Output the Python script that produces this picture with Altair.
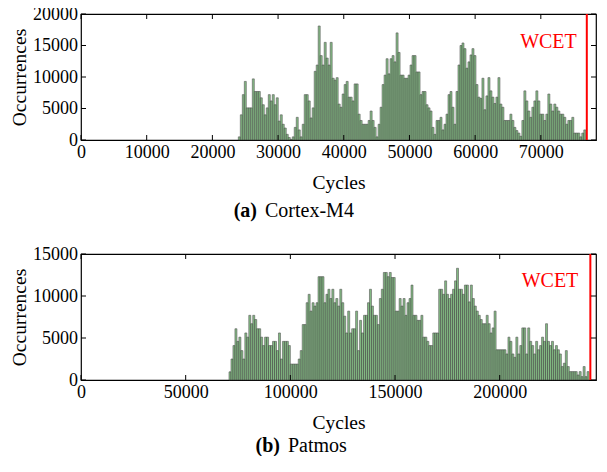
import altair as alt
import pandas as pd

FONT = "Liberation Serif"

# ---------------- (a) Cortex-M4 ----------------
m4_counts = [
    500, 4000, 7200, 9300, 5100, 5100, 5100, 9700, 7700, 7700,
    7700, 6700, 5600, 4000, 5100, 7200, 6200, 7200, 5600, 6700,
    3000, 4000, 2500, 1900, 900, 400, 100, 500, 2000, 3600,
    1600, 500, 2500, 7200, 7200, 6200, 3500, 5100, 10900, 11900,
    18100, 13400, 11900, 15500, 13000, 11900, 15500, 9800, 9500, 9900,
    5700, 5200, 7300, 8800, 9300, 6800, 6800, 6200, 8900, 8900,
    4100, 3100, 2500, 2500, 2500, 3100, 4600, 3100, 2000, 500,
    2500, 5200, 8800, 10300, 12900, 10500, 12900, 13400, 12400, 17000,
    13900, 10300, 10300, 9800, 9800, 10300, 11900, 13400, 13400, 10800,
    10800, 7200, 7700, 7700, 5600, 5100, 4600, 2000, 900, 3100,
    3100, 3600, 1600, 2500, 4100, 7200, 7700, 5200, 2500, 7700,
    11900, 15000, 15400, 14500, 11400, 12400, 13500, 14500, 13400, 8800,
    6800, 6600, 9800, 4800, 7000, 9900, 7800, 6800, 5800, 6800,
    9900, 5700, 5200, 3100, 3100, 3100, 4100, 3100, 2000, 1500,
    1100, 600, 3100, 7800, 6200, 4600, 3600, 5200, 6200, 7800,
    6200, 4100, 4100, 3100, 4100, 7300, 5700, 4600, 5700, 5200,
    4600, 4100, 4100, 3600, 2500, 3100, 3100, 3600, 1100, 1100,
    1100, 500, 1100, 1600,
]
m4_bin_start = 23950
m4_bin_width = 304
m4_wcet = 77000
m4_xmax = 78400
m4_ymax = 20000
m4_xticks = [0, 10000, 20000, 30000, 40000, 50000, 60000, 70000]
m4_yticks = [0, 5000, 10000, 15000, 20000]

# ---------------- (b) Patmos ----------------
pat_counts = [
    970, 2500, 4100, 6100, 4600, 5100, 3500, 2500, 5600, 5100,
    7700, 6700, 7700, 7200, 6100, 6100, 5100, 4100, 5100, 5100,
    4100, 4100, 4600, 4600, 3500, 5600, 2500, 4600, 4600, 4600,
    4100, 1900, 1900, 1900, 1900, 2500, 3500, 6600, 6600, 9200,
    10200, 8200, 9200, 8800, 9200, 12300, 12300, 12300, 9200, 10200,
    10800, 9700, 10800, 9200, 9700, 8800, 10800, 9200, 7600,
    5600, 8200, 5600, 6100, 6100, 8200, 3500, 7100, 5600, 7700,
    7700, 9200, 10800, 8800, 7700, 7700, 6600, 9700, 10800, 12800,
    12800, 12300, 12800, 12200, 12200, 8200, 8200, 9700, 8800, 9700,
    7700, 9200, 9700, 11300, 7700, 7700, 7100, 7100, 7700, 5100,
    5100, 4600, 4100, 4100, 5600, 5600, 5600, 10800, 10800, 10200,
    11800, 10200, 9700, 10200, 10800, 11800, 13300, 10800, 10800, 10200,
    11300, 11300, 9300, 11300, 9700, 8800, 8200, 7700, 7200, 6700,
    6700, 7700, 6700, 5600, 6200, 8200, 3600, 3600, 3600, 3600,
    3600, 3100, 5100, 4600, 3100, 2700, 5100, 3100, 4100, 6200,
    6200, 3100, 6200, 4600, 4100, 3100, 4600, 3600, 4100, 5100,
    4600, 6700, 4600, 4100, 4600, 3600, 4100, 3600, 3100, 1600,
    2000, 3500, 1600, 1000, 1000, 1000, 1000, 600, 1000, 400,
    1600, 400, 1000,
]
pat_bin_start = 70700
pat_bin_width = 945
pat_wcet = 243300
pat_xmax = 246000
pat_ymax = 15000
pat_xticks = [0, 50000, 100000, 150000, 200000]
pat_yticks = [0, 5000, 10000, 15000]

captions_tag = ["(a)", "(b)"]
captions_name = ["Cortex-M4", "Patmos"]
wcet_label = "WCET"
x_title = "Cycles"
y_title = "Occurrences"

W = 515


def panel(counts, start, width, wcet, xmax, ymax, xticks, yticks, H,
          tag, name, tag_x, name_x, cap_y, wcet_y, wcet_dx):
    lo = [start + i * width for i in range(len(counts))]
    df = pd.DataFrame({"lo": lo, "hi": [v + width for v in lo],
                       "count": counts, "base": [0] * len(counts)})
    xs = alt.Scale(domain=[0, xmax], nice=False, zero=False)
    ys = alt.Scale(domain=[0, ymax], nice=False)
    xaxis = alt.Axis(values=xticks, title=x_title, format="d", ticks=False,
                     domain=False, grid=False, labelPadding=3, titlePadding=12.5,
                     labelFlush=False, labelOverlap=False)
    yaxis = alt.Axis(values=yticks, title=y_title, format="d", ticks=False,
                     domain=False, grid=False, labelPadding=3.5, titlePadding=3.5,
                     labelOverlap=False)

    def X(f):
        return alt.X(f, type="quantitative", scale=xs, axis=xaxis)

    def Y(f):
        return alt.Y(f, type="quantitative", scale=ys, axis=yaxis)

    bars = alt.Chart(df).mark_bar(
        fill="#6fb06f", stroke="#3a3a3a", strokeWidth=0.6, opacity=0.85
    ).encode(x=X("lo"), x2="hi", y=Y("count"), y2="base")

    xt = pd.DataFrame({"t": xticks})
    yt = pd.DataFrame({"t": yticks})
    tick_style = dict(color="black", strokeWidth=1)
    xt_bottom = alt.Chart(xt).mark_rule(**tick_style).encode(
        x=X("t"), y=alt.value(H), y2=alt.value(H - 5))
    xt_top = alt.Chart(xt).mark_rule(**tick_style).encode(
        x=X("t"), y=alt.value(0), y2=alt.value(5))
    yt_left = alt.Chart(yt).mark_rule(**tick_style).encode(
        y=Y("t"), x=alt.value(0), x2=alt.value(5))
    yt_right = alt.Chart(yt).mark_rule(**tick_style).encode(
        y=Y("t"), x=alt.value(W - 5), x2=alt.value(W))

    wdf = pd.DataFrame({"wcet": [wcet], "label": [wcet_label]})
    wline = alt.Chart(wdf).mark_rule(color="#ff0000", strokeWidth=2).encode(x=X("wcet"))
    wtext = alt.Chart(wdf).mark_text(
        color="#ff0000", font=FONT, fontSize=20, align="right", baseline="middle",
        dx=wcet_dx
    ).encode(x=X("wcet"), y=alt.value(wcet_y), text="label:N")

    cdf = pd.DataFrame({"tag": [tag], "name": [name]})
    ctag = alt.Chart(cdf).mark_text(
        font=FONT, fontSize=20, fontWeight="bold", align="right", baseline="middle",
        color="black"
    ).encode(x=alt.value(tag_x), y=alt.value(cap_y), text="tag:N")
    cname = alt.Chart(cdf).mark_text(
        font=FONT, fontSize=20, align="left", baseline="middle", color="black"
    ).encode(x=alt.value(name_x), y=alt.value(cap_y), text="name:N")

    return alt.layer(bars, wline, wtext, xt_bottom, xt_top, yt_left, yt_right,
                     ctag, cname).properties(width=W, height=H)


p1 = panel(m4_counts, m4_bin_start, m4_bin_width, m4_wcet, m4_xmax, m4_ymax,
           m4_xticks, m4_yticks, 126, captions_tag[0], captions_name[0],
           176, 184, 197, 28, -10)
p2 = panel(pat_counts, pat_bin_start, pat_bin_width, pat_wcet, pat_xmax, pat_ymax,
           pat_xticks, pat_yticks, 126, captions_tag[1], captions_name[1],
           199, 207, 192, 27, -12)

chart = alt.vconcat(p1, p2, spacing=22).properties(
    padding={"left": 0, "top": -4, "right": 0, "bottom": -1}
).configure_view(stroke="black", strokeWidth=1.2).configure_axis(
    labelFont=FONT, titleFont=FONT, labelFontSize=18, titleFontSize=19.5,
    labelColor="black", titleColor="black", titleFontWeight="normal"
)

chart.save("out.html", embed_options={"renderer": "svg", "actions": False})
